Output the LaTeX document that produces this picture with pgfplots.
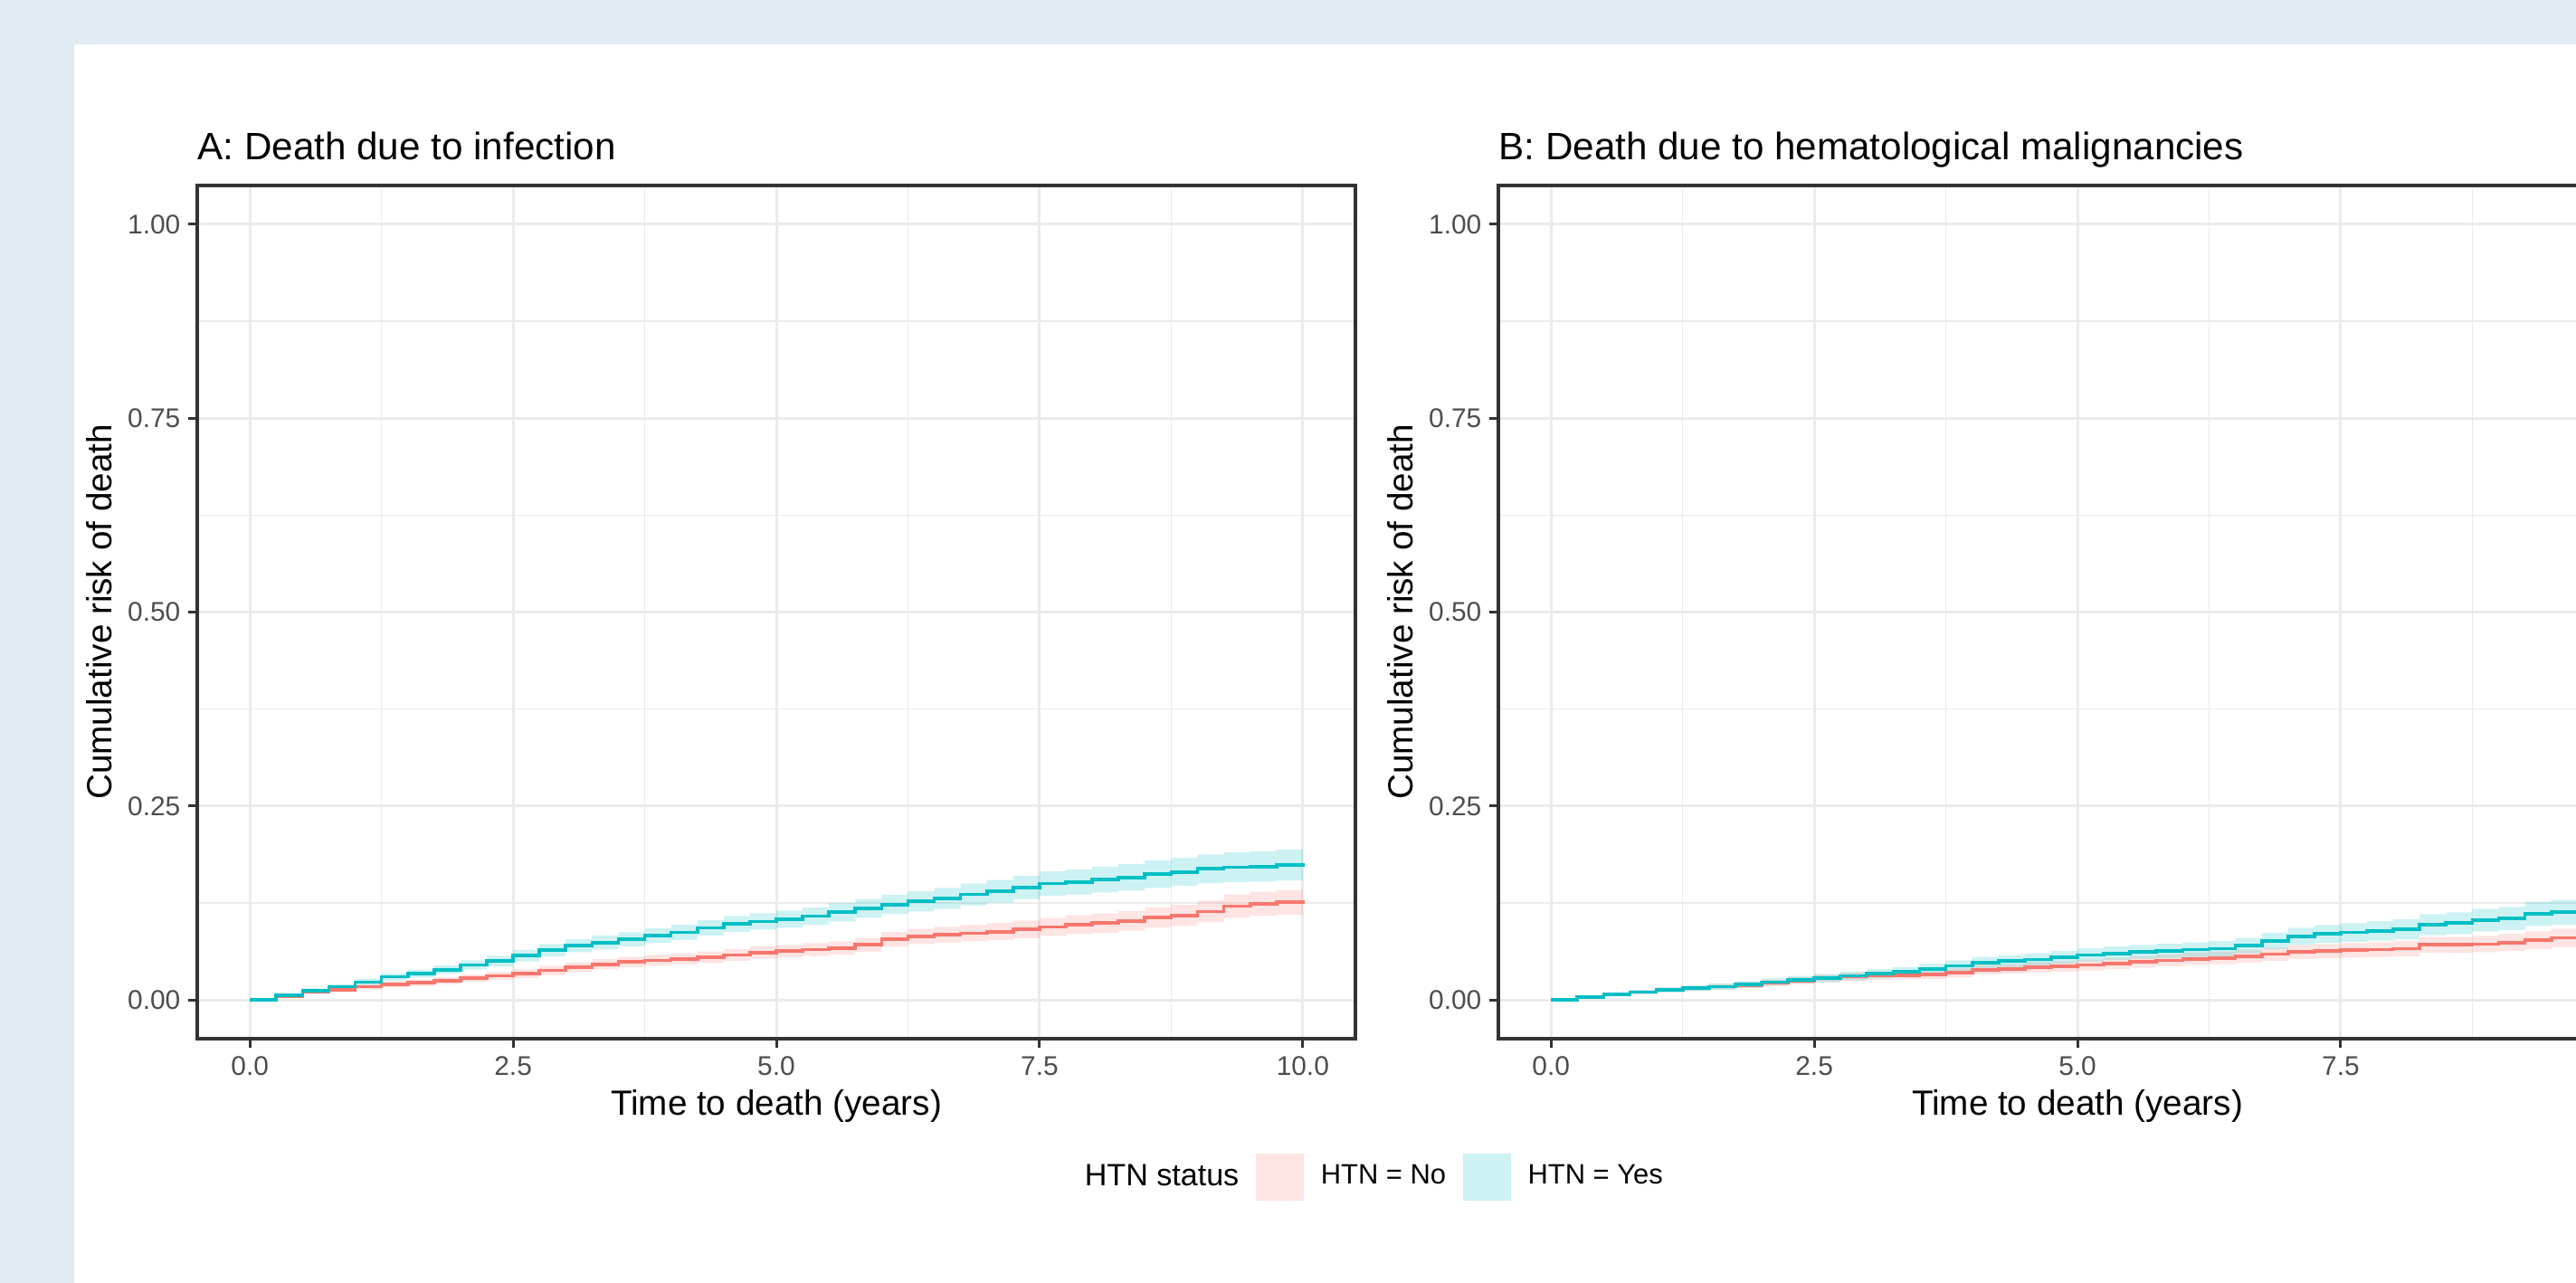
\documentclass[border=0pt]{standalone}
\usepackage{fontspec}
\setmainfont{Liberation Sans}
\usepackage{pgfplots}
\pgfplotsset{compat=1.18}
\usepackage{pgfplotstable}
\usepgfplotslibrary{fillbetween}

\definecolor{bgblue}{HTML}{E0EAF3}
\definecolor{cred}{HTML}{F8766D}
\definecolor{cteal}{HTML}{00BFC4}
\definecolor{ribred}{HTML}{FEE4E2}
\definecolor{ribteal}{HTML}{CCF2F3}
\definecolor{gridc}{HTML}{EBEBEB}
\definecolor{gtwenty}{HTML}{333333}
\definecolor{gthirty}{HTML}{4D4D4D}

% Panel A: HTN = No
\pgfplotstableread{
t est hw
0 0 0
0.25 0.005 0.002
0.5 0.010 0.0025
0.75 0.013 0.003
1.0 0.017 0.0035
1.25 0.020 0.004
1.5 0.022 0.0043
1.75 0.025 0.0046
2.0 0.028 0.005
2.25 0.031 0.0053
2.5 0.034 0.0056
2.75 0.038 0.006
3.0 0.042 0.0063
3.25 0.046 0.0066
3.5 0.049 0.0068
3.75 0.051 0.007
4.0 0.053 0.0072
4.25 0.055 0.0074
4.5 0.058 0.0076
4.75 0.061 0.0078
5.0 0.063 0.008
5.25 0.065 0.0083
5.5 0.067 0.0086
5.75 0.071 0.009
6.0 0.078 0.0095
6.25 0.082 0.010
6.5 0.084 0.0103
6.75 0.086 0.0106
7.0 0.088 0.011
7.25 0.091 0.0113
7.5 0.094 0.0116
7.75 0.097 0.012
8.0 0.099 0.0123
8.25 0.102 0.0127
8.5 0.106 0.013
8.75 0.109 0.0135
9.0 0.114 0.014
9.25 0.121 0.015
9.5 0.124 0.0155
9.75 0.126 0.016
10.0 0.129 0.0165
}\redA
% Panel A: HTN = Yes
\pgfplotstableread{
t est hw
0 0 0
0.25 0.006 0.002
0.5 0.012 0.003
0.75 0.017 0.0035
1.0 0.023 0.004
1.25 0.030 0.0045
1.5 0.034 0.005
1.75 0.039 0.0055
2.0 0.045 0.006
2.25 0.050 0.007
2.5 0.057 0.0075
2.75 0.064 0.008
3.0 0.070 0.0085
3.25 0.074 0.009
3.5 0.078 0.0092
3.75 0.083 0.0095
4.0 0.087 0.0098
4.25 0.093 0.010
4.5 0.098 0.0103
4.75 0.101 0.0106
5.0 0.104 0.011
5.25 0.108 0.0113
5.5 0.113 0.0117
5.75 0.118 0.012
6.0 0.123 0.0125
6.25 0.127 0.013
6.5 0.131 0.0135
6.75 0.136 0.014
7.0 0.140 0.0145
7.25 0.145 0.015
7.5 0.150 0.0155
7.75 0.152 0.016
8.0 0.155 0.0165
8.25 0.158 0.017
8.5 0.162 0.0175
8.75 0.165 0.018
9.0 0.169 0.0185
9.25 0.171 0.019
9.5 0.172 0.0195
9.75 0.174 0.020
10.0 0.176 0.0205
}\tealA
% Panel B: HTN = No
\pgfplotstableread{
t est hw
0 0 0
0.25 0.004 0.0015
0.5 0.007 0.002
0.75 0.010 0.0025
1.0 0.013 0.003
1.25 0.015 0.0033
1.5 0.017 0.0036
1.75 0.019 0.004
2.0 0.022 0.0043
2.25 0.025 0.0046
2.5 0.028 0.005
2.75 0.030 0.0052
3.0 0.031 0.0054
3.25 0.032 0.0056
3.5 0.033 0.0058
3.75 0.035 0.006
4.0 0.039 0.0062
4.25 0.040 0.0064
4.5 0.042 0.0066
4.75 0.043 0.0068
5.0 0.045 0.007
5.25 0.047 0.0072
5.5 0.049 0.0074
5.75 0.051 0.0076
6.0 0.053 0.0078
6.25 0.054 0.008
6.5 0.056 0.0082
6.75 0.059 0.0085
7.0 0.062 0.0088
7.25 0.063 0.009
7.5 0.064 0.0093
7.75 0.065 0.0095
8.0 0.066 0.0098
8.25 0.071 0.010
8.5 0.071 0.0103
8.75 0.072 0.0106
9.0 0.074 0.011
9.25 0.077 0.0115
9.5 0.080 0.012
9.75 0.083 0.0125
10.0 0.085 0.013
}\redB
% Panel B: HTN = Yes
\pgfplotstableread{
t est hw
0 0 0
0.25 0.004 0.0015
0.5 0.007 0.002
0.75 0.010 0.0025
1.0 0.013 0.003
1.25 0.015 0.0035
1.5 0.017 0.004
1.75 0.020 0.0043
2.0 0.023 0.0046
2.25 0.026 0.005
2.5 0.028 0.0053
2.75 0.031 0.0056
3.0 0.034 0.006
3.25 0.036 0.0063
3.5 0.040 0.0066
3.75 0.044 0.007
4.0 0.048 0.0073
4.25 0.050 0.0076
4.5 0.052 0.0079
4.75 0.055 0.0082
5.0 0.058 0.0085
5.25 0.060 0.0088
5.5 0.062 0.009
5.75 0.063 0.0092
6.0 0.065 0.0095
6.25 0.066 0.0097
6.5 0.070 0.010
6.75 0.076 0.0105
7.0 0.082 0.011
7.25 0.085 0.0115
7.5 0.087 0.012
7.75 0.089 0.0125
8.0 0.091 0.013
8.25 0.097 0.0135
8.5 0.099 0.014
8.75 0.103 0.0145
9.0 0.105 0.015
9.25 0.111 0.0155
9.5 0.113 0.016
9.75 0.115 0.0165
10.0 0.118 0.017
}\tealB

\pgfplotsset{
  ggp/.style={
    scale only axis, width=12.8cm, height=9.43cm,
    xmin=-0.5, xmax=10.5, ymin=-0.05, ymax=1.05,
    xtick={0,2.5,5,7.5,10}, xticklabels={0.0,2.5,5.0,7.5,10.0},
    ytick={0,0.25,0.5,0.75,1}, yticklabels={0.00,0.25,0.50,0.75,1.00},
    minor xtick={1.25,3.75,6.25,8.75},
    minor ytick={0.125,0.375,0.625,0.875},
    xmajorgrids, ymajorgrids, xminorgrids, yminorgrids,
    major grid style={draw=gridc, line width=0.85pt},
    minor grid style={draw=gridc, line width=0.45pt},
    minor tick length=0pt,
    major tick length=0.1cm,
    tick align=outside, tick pos=left,
    major tick style={draw=gtwenty, line width=0.85pt},
    axis line style={draw=gtwenty, line width=1.1pt},
    tick label style={font=\fontsize{8.5}{10}\selectfont, text=gthirty, inner sep=0pt},
    xticklabel style={yshift=-0.09cm},
    yticklabel style={xshift=-0.08cm},
    x label style={at={(axis description cs:0.5,-0.0891)}, anchor=base, font=\fontsize{11}{13}\selectfont, inner sep=0pt},
    y label style={at={(axis description cs:-0.0742,0.5)}, anchor=base, font=\fontsize{11}{13}\selectfont, inner sep=0pt},
    every axis title/.style={at={(axis description cs:0,1.0297)}, anchor=base west, font=\fontsize{12}{14}\selectfont, inner sep=0pt},
    xlabel={Time to death (years)},
    ylabel={Cumulative risk of death},
  },
  band/.style={const plot, draw=none, forget plot},
  estline/.style={const plot, line width=1.05pt, forget plot},
}

\begin{document}
\pagecolor{white}%
\begin{tikzpicture}
% blue page margins (left and top strips only; the rest of the page stays white)
\fill[bgblue] (0cm,0cm) rectangle (0.82cm,14.18cm);
\fill[bgblue] (0cm,13.69cm) rectangle (28.47cm,14.18cm);

\begin{axis}[ggp, at={(2.18cm,2.70cm)}, anchor=south west,
  title={A: Death due to infection},
  legend columns=3,
  legend style={at={(axis description cs:0.7426,-0.1622)}, anchor=west,
    draw=none, fill=none,
    column sep=0.12cm, font=\fontsize{8.8}{10}\selectfont},
]
\addplot[band, name path=ru] table[x=t, y expr=\thisrow{est}+\thisrow{hw}] {\redA};
\addplot[band, name path=rl] table[x=t, y expr=\thisrow{est}-\thisrow{hw}] {\redA};
\addplot[fill=cred, fill opacity=0.2, draw=none, forget plot] fill between[of=ru and rl];
\addplot[band, name path=tu] table[x=t, y expr=\thisrow{est}+\thisrow{hw}] {\tealA};
\addplot[band, name path=tl] table[x=t, y expr=\thisrow{est}-\thisrow{hw}] {\tealA};
\addplot[fill=cteal, fill opacity=0.2, draw=none, forget plot] fill between[of=tu and tl];
\addplot[estline, cred] table[x=t, y=est] {\redA};
\addplot[estline, cteal] table[x=t, y=est] {\tealA};
\addlegendimage{empty legend}
\addlegendentry{\fontsize{9.7}{12}\selectfont HTN status}
\addlegendimage{legend image code/.code={\fill[ribred] (0cm,-0.255cm) rectangle (0.51cm,0.255cm);}}
\addlegendentry{HTN = No}
\addlegendimage{legend image code/.code={\fill[ribteal] (0cm,-0.255cm) rectangle (0.51cm,0.255cm);}}
\addlegendentry{HTN = Yes}
\end{axis}

\begin{axis}[ggp, at={(16.56cm,2.70cm)}, anchor=south west,
  title={B: Death due to hematological malignancies},
]
\addplot[band, name path=ru] table[x=t, y expr=\thisrow{est}+\thisrow{hw}] {\redB};
\addplot[band, name path=rl] table[x=t, y expr=\thisrow{est}-\thisrow{hw}] {\redB};
\addplot[fill=cred, fill opacity=0.2, draw=none, forget plot] fill between[of=ru and rl];
\addplot[band, name path=tu] table[x=t, y expr=\thisrow{est}+\thisrow{hw}] {\tealB};
\addplot[band, name path=tl] table[x=t, y expr=\thisrow{est}-\thisrow{hw}] {\tealB};
\addplot[fill=cteal, fill opacity=0.2, draw=none, forget plot] fill between[of=tu and tl];
\addplot[estline, cred] table[x=t, y=est] {\redB};
\addplot[estline, cteal] table[x=t, y=est] {\tealB};
\end{axis}
\pgfresetboundingbox
\path[use as bounding box] (0cm,0cm) rectangle (28.47cm,14.18cm);
\end{tikzpicture}%
\end{document}
